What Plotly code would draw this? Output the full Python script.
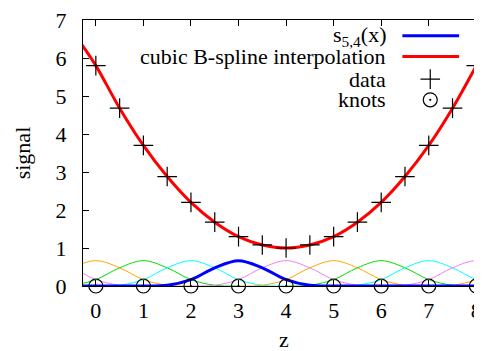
import plotly.graph_objects as go

# ---- data ----
data_x = [0, 0.5, 1, 1.5, 2, 2.5, 3, 3.5, 4, 4.5, 5, 5.5, 6, 6.5, 7, 7.5, 8]
data_y = [5.8, 4.68, 3.7, 2.88, 2.2, 1.68, 1.3, 1.08, 1.0, 1.08, 1.3, 1.68, 2.2, 2.88, 3.7, 4.68, 5.8]

interp_x = [-0.3, 0, 0.5, 1, 1.5, 2, 2.5, 3, 3.5, 4, 4.5, 5, 5.5, 6, 6.5, 7, 7.5, 8, 8.3]
interp_y = [6.36, 5.8, 4.68, 3.7, 2.88, 2.2, 1.68, 1.3, 1.08, 1.0, 1.08, 1.3, 1.68, 2.2, 2.88, 3.7, 4.68, 5.8, 6.5]

knots_x = [0, 1, 2, 3, 4, 5, 6, 7, 8]
knots_y = [0, 0, 0, 0, 0, 0, 0, 0, 0]

# shape of one cubic B-spline basis function (offset from its centre -> value)
basis_offsets = [-2, -1.5, -1, -0.5, 0, 0.5, 1, 1.5, 2]
basis_values = [0, 0.02, 0.167, 0.479, 0.667, 0.479, 0.167, 0.02, 0]

basis_centers = [-1, 0, 1, 2, 4, 5, 6, 7, 8, 9]
basis_colors = ["#ee82ee", "#ffa500", "#00dd00", "#00ffff", "#ee82ee",
                "#ffa500", "#00dd00", "#00ffff", "#ee82ee", "#ffa500"]

s54_x = [-0.5, 0, 0.5, 1, 1.5, 2, 2.5, 3, 3.5, 4, 4.5, 5, 5.5, 6, 6.5, 7, 7.5, 8, 8.5]
s54_y = [0, 0, 0, 0, 0.02, 0.167, 0.479, 0.667, 0.479, 0.167, 0.02, 0, 0, 0, 0, 0, 0, 0, 0]

x_ticks = [0, 1, 2, 3, 4, 5, 6, 7, 8]
y_ticks = [0, 1, 2, 3, 4, 5, 6, 7]

FONT = "Liberation Serif, Times New Roman, DejaVu Serif, serif"
FS = 22
LFS = 22

fig = go.Figure()

for c, col in zip(basis_centers, basis_colors):
    fig.add_trace(go.Scatter(
        x=[c + o for o in basis_offsets], y=basis_values, mode="lines",
        line=dict(color=col, width=1, shape="spline"), showlegend=False))

fig.add_trace(go.Scatter(x=s54_x, y=s54_y, mode="lines",
                         line=dict(color="#0000ff", width=3, shape="spline"), showlegend=False))
fig.add_trace(go.Scatter(x=interp_x, y=interp_y, mode="lines",
                         line=dict(color="#ff0000", width=3, shape="spline"), showlegend=False))
fig.add_trace(go.Scatter(x=data_x, y=data_y, mode="markers",
                         marker=dict(symbol="cross-thin-open", size=14, color="black",
                                     line=dict(color="black", width=1.2)), showlegend=False))
fig.add_trace(go.Scatter(x=knots_x, y=knots_y, mode="markers", cliponaxis=False,
                         marker=dict(symbol="circle-open-dot", size=14, color="black",
                                     line=dict(color="black", width=1.2)), showlegend=False))

# page body has an 8px margin; size/margins compensate for it
OFF = 8
W, H = 482 - OFF, 351 - OFF
L, R, T = 83 - OFF, 0, 16 - OFF
B = H - (286 - OFF)
pw, ph = W - L - R, H - T - B
def px(x): return (x - OFF - L) / pw
def py(y): return (H - B - (y - OFF)) / ph

rows = [32, 53, 76, 97]
labels = ["s<sub>5,4</sub>(x)", "cubic B-spline interpolation", "data", "knots"]
for r, t in zip(rows, labels):
    fig.add_annotation(x=px(390), y=py(r), xref="paper", yref="paper", text=t,
                       showarrow=False, xanchor="right", yanchor="middle",
                       font=dict(family=FONT, size=LFS, color="black"))

fig.add_trace(go.Scatter(x=[px(404), px(461)], y=[py(rows[0])] * 2, xaxis="x2", yaxis="y2",
                         mode="lines", line=dict(color="#0000ff", width=3), showlegend=False,
                         cliponaxis=False))
fig.add_trace(go.Scatter(x=[px(404), px(461)], y=[py(rows[1])] * 2, xaxis="x2", yaxis="y2",
                         mode="lines", line=dict(color="#ff0000", width=3), showlegend=False,
                         cliponaxis=False))
fig.add_trace(go.Scatter(x=[px(432)], y=[py(rows[2])], xaxis="x2", yaxis="y2", mode="markers",
                         marker=dict(symbol="cross-thin-open", size=14, color="black",
                                     line=dict(color="black", width=1.2)), showlegend=False))
fig.add_trace(go.Scatter(x=[px(432)], y=[py(rows[3])], xaxis="x2", yaxis="y2", mode="markers",
                         marker=dict(symbol="circle-open-dot", size=14, color="black",
                                     line=dict(color="black", width=1.2)), showlegend=False))

fig.add_annotation(x=px(285), y=py(355), xref="paper", yref="paper", text="z",
                   showarrow=False, xanchor="center", yanchor="bottom",
                   font=dict(family=FONT, size=FS, color="black"))
fig.add_annotation(x=px(22), y=py(151), xref="paper", yref="paper", text="signal",
                   showarrow=False, xanchor="center", yanchor="middle", textangle=-90,
                   font=dict(family=FONT, size=FS, color="black"))

x0 = -0.27
x1 = x0 + pw / 47.8
fig.update_layout(
    width=W, height=H,
    margin=dict(l=L, r=R, t=T, b=B),
    paper_bgcolor="white", plot_bgcolor="white",
    font=dict(family=FONT, size=FS, color="black"),
    showlegend=False,
    xaxis=dict(range=[x0, x1], tickvals=x_ticks, ticks="inside", ticklen=6, tickcolor="black",
               showline=True, linecolor="black", linewidth=1, mirror="ticks",
               showgrid=False, zeroline=False, ticklabelstandoff=5, ticklabeloverflow="allow"),
    yaxis=dict(range=[0, 7], tickvals=y_ticks, ticks="inside", ticklen=6, tickcolor="black",
               showline=True, linecolor="black", linewidth=1, mirror=False,
               showgrid=False, zeroline=False, ticklabelstandoff=11, ticklabeloverflow="allow"),
    xaxis2=dict(range=[0, 1], overlaying="x", visible=False, anchor="y2"),
    yaxis2=dict(range=[0, 1], overlaying="y", visible=False, anchor="x2"),
)

fig.write_html("out.html")
